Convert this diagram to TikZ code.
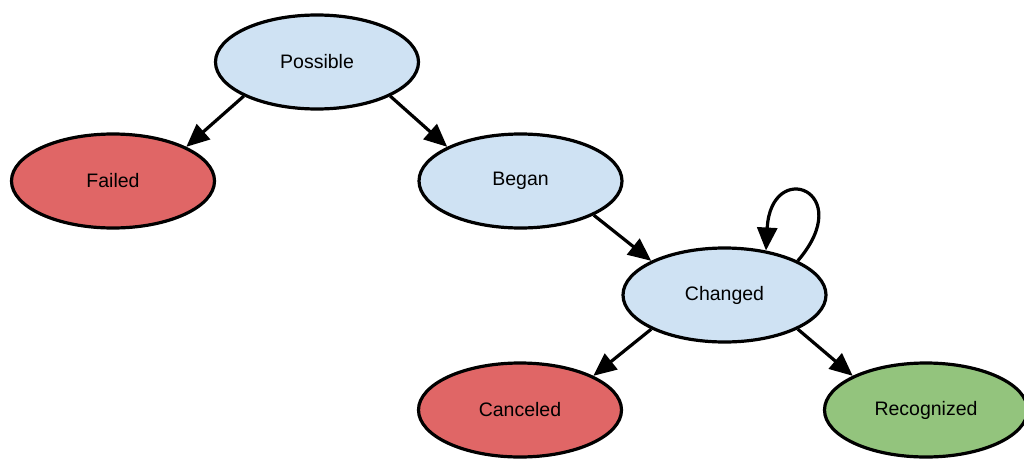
\documentclass[tikz,border=0pt]{standalone}
\usepackage{fontspec}
\setmainfont{Liberation Sans}
\usetikzlibrary{shapes.geometric,arrows.meta}
\definecolor{sblue}{HTML}{CFE2F3}
\definecolor{sred}{HTML}{E06666}
\definecolor{sgreen}{HTML}{93C47D}
\begin{document}
\begin{tikzpicture}[x=1pt,y=-1pt,
  state/.style={ellipse,draw=black,line width=3.2pt,inner sep=0pt,minimum width=203pt,minimum height=94pt,font=\fontsize{19.5}{23}\selectfont},
  arr/.style={line width=3.2pt,-{Triangle[length=23pt,width=20pt]}}]
\useasboundingbox (0,0) rectangle (1024,460);
\node[state,fill=sblue] (po) at (317,62) {Possible};
\node[state,fill=sred] (fa) at (113,181) {Failed};
\node[state,fill=sblue] (be) at (520.5,181) {Began};
\node[state,fill=sblue] (ch) at (724.5,295) {Changed};
\node[state,fill=sred] (ca) at (520,410) {Canceled};
\node[state,fill=sgreen] (re) at (926,410) {Recognized};
\draw[arr] (po.205) -- (fa.25);
\draw[arr] (po.335) -- (be.155);
\draw[arr] (be.335) -- (ch.155);
\draw[arr] (ch.205) -- (ca.25);
\draw[arr] (ch.335) -- (re.155);
\draw[arr] (ch.25) .. controls +(60,-70) and +(5,-93) .. (ch.47);
\end{tikzpicture}
\end{document}
